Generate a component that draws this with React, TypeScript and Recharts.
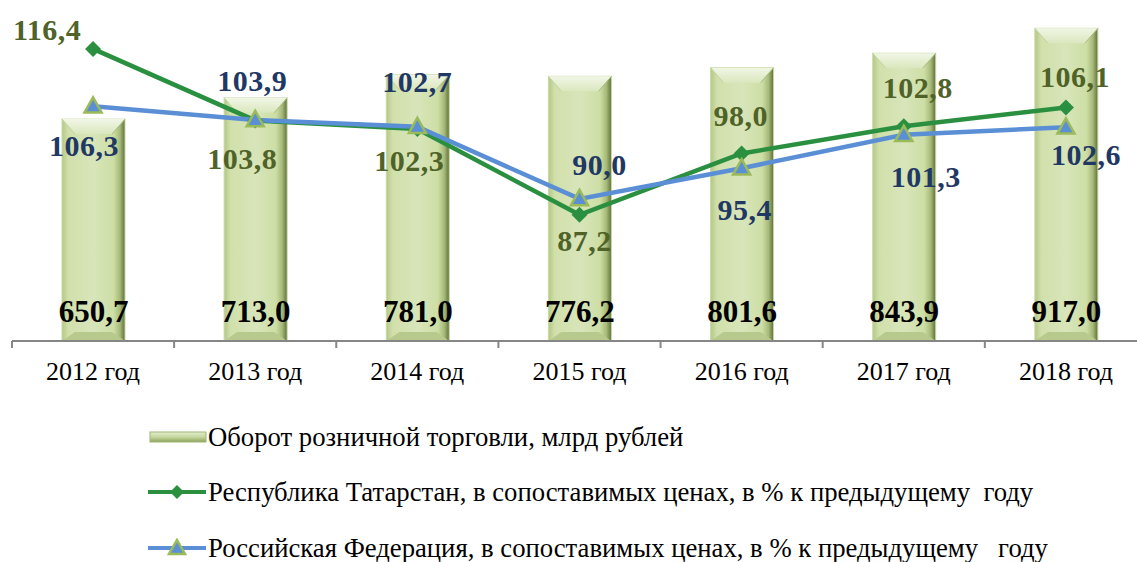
import { ComposedChart, Bar, Line, XAxis, YAxis, Legend, LabelList } from 'recharts'

// данные
const years = ['2012 год', '2013 год', '2014 год', '2015 год', '2016 год', '2017 год', '2018 год']
const turnover = [650.7, 713.0, 781.0, 776.2, 801.6, 843.9, 917.0]
const tatarstan = [116.4, 103.8, 102.3, 87.2, 98.0, 102.8, 106.1]
const russia = [106.3, 103.9, 102.7, 90.0, 95.4, 101.3, 102.6]

const seriesNames = [
  'Оборот розничной торговли, млрд рублей',
  'Республика Татарстан, в сопоставимых ценах, в % к предыдущему  году',
  'Российская Федерация, в сопоставимых ценах, в % к предыдущему   году',
]

const data = years.map((year, i) => ({
  year,
  turnover: turnover[i],
  tatarstan: tatarstan[i],
  russia: russia[i],
}))

// смещения подписей относительно точек
const greenOffsets = [[-46, -19], [-13, 38], [-8, 31], [5, 26], [-1, -38], [14, -39], [9, -31]]
const blueOffsets = [[-9, 39], [-3, -39], [0, -45], [20, -34], [3, 41], [22, 42], [20, 27]]

const FONT = "'Liberation Serif', 'Times New Roman', serif"
const GREEN = '#2a9040'
const BLUE = '#5a8fd6'
const BAND = 162.2

const fmt = (v: number) => v.toFixed(1).replace('.', ',')

const BevelBar = (props: any) => {
  const { x, y, width, height } = props
  if (!height || height <= 0) return null
  const bx = 13
  const by = 15
  const bb = 9
  return (
    <g>
      <rect x={x} y={y} width={width} height={height} fill="url(#barBody)" stroke="#c9d9a6" strokeWidth={1} />
      <polygon
        points={`${x},${y} ${x + width},${y} ${x + width - bx},${y + by} ${x + bx},${y + by}`}
        fill="url(#barTop)"
      />
      <polygon
        points={`${x},${y + height} ${x + width},${y + height} ${x + width - bx},${y + height - bb} ${x + bx},${y + height - bb}`}
        fill="#b7c98c"
      />
      <line x1={x} y1={y} x2={x + bx} y2={y + by} stroke="#c2d39a" strokeWidth={1} />
      <line x1={x + width} y1={y} x2={x + width - bx} y2={y + by} stroke="#a9bb7c" strokeWidth={1} />
    </g>
  )
}

const Diamond = (props: any) => {
  const { cx, cy } = props
  if (cx == null || cy == null) return null
  const r = 8
  return <polygon points={`${cx},${cy - r} ${cx + r},${cy} ${cx},${cy + r} ${cx - r},${cy}`} fill={GREEN} />
}

const Triangle = (props: any) => {
  const { cx, cy } = props
  if (cx == null || cy == null) return null
  const r = 9
  return (
    <polygon
      points={`${cx},${cy - r} ${cx + r * 0.95},${cy + r * 0.7} ${cx - r * 0.95},${cy + r * 0.7}`}
      fill={BLUE}
      stroke="#9bbb59"
      strokeWidth={2.5}
    />
  )
}

const makeLineLabel = (color: string, offsets: number[][]) => (props: any) => {
  const { x, y, value, index } = props
  const [dx, dy] = offsets[index] || [0, 0]
  return (
    <text
      x={x + dx}
      y={y + dy}
      textAnchor="middle"
      dominantBaseline="central"
      fill={color}
      fontSize={30}
      letterSpacing={0.5}
      fontWeight="bold"
      fontFamily={FONT}
    >
      {fmt(value)}
    </text>
  )
}

const BarLabel = (props: any) => {
  const { x, y, width, height, value } = props
  return (
    <text
      x={x + width / 2}
      y={y + height - 30}
      textAnchor="middle"
      dominantBaseline="central"
      fill="#000"
      fontSize={31}
      fontWeight="bold"
      fontFamily={FONT}
    >
      {fmt(value)}
    </text>
  )
}

const YearTick = (props: any) => {
  const { x, y, payload, index } = props
  const half = BAND / 2
  return (
    <g>
      <line x1={x - half} y1={y - 8} x2={x - half} y2={y - 1} stroke="#868686" strokeWidth={2} />
      {index === years.length - 1 && (
        <line x1={x + half} y1={y - 8} x2={x + half} y2={y - 1} stroke="#868686" strokeWidth={2} />
      )}
      <text x={x} y={y + 31} textAnchor="middle" fill="#000" fontSize={26} fontFamily={FONT}>
        {payload.value}
      </text>
    </g>
  )
}

const LegendBox = () => {
  const rowTop = [22, 77, 133]
  return (
    <div style={{ position: 'relative', width: 1137, height: 161, fontFamily: FONT }}>
      {seriesNames.map((name, i) => (
        <div
          key={name}
          style={{
            position: 'absolute',
            left: 148,
            top: rowTop[i],
            height: 28,
            display: 'flex',
            alignItems: 'center',
            whiteSpace: 'pre',
            fontSize: 26.7,
            fontFamily: FONT,
            color: '#000',
          }}
        >
          <svg width={59} height={20} style={{ marginRight: 1, flexShrink: 0 }}>
            {i === 0 && (
              <g>
                <rect x={2} y={5} width={56} height={10} fill="url(#legendBar)" stroke="#9fb574" strokeWidth={1} />
              </g>
            )}
            {i === 1 && (
              <g>
                <line x1={0} y1={10} x2={58} y2={10} stroke={GREEN} strokeWidth={4} />
                <polygon points="29,3 36,10 29,17 22,10" fill={GREEN} />
              </g>
            )}
            {i === 2 && (
              <g>
                <line x1={0} y1={10} x2={58} y2={10} stroke={BLUE} strokeWidth={4} />
                <polygon points="29,2 37,16 21,16" fill={BLUE} stroke="#9bbb59" strokeWidth={2.5} />
              </g>
            )}
            <defs>
              <linearGradient id="legendBar" x1="0" y1="0" x2="0" y2="1">
                <stop offset="0%" stopColor="#e4edcf" />
                <stop offset="50%" stopColor="#c6d79e" />
                <stop offset="100%" stopColor="#8ea35c" />
              </linearGradient>
            </defs>
          </svg>
          <span style={{ fontFamily: FONT }}>{name}</span>
        </div>
      ))}
    </div>
  )
}

export default function App() {
  return (
    <div style={{ position: 'absolute', left: 0, top: 0, width: 1137, height: 562, overflow: 'hidden', background: '#fff' }}>
      <ComposedChart width={1151} height={562} data={data} margin={{ top: 0, right: 4, bottom: 0, left: 12 }}>
        <defs>
          <linearGradient id="barBody" x1="0" y1="0" x2="1" y2="0">
            <stop offset="0%" stopColor="#b3c785" />
            <stop offset="10%" stopColor="#d1e0ab" />
            <stop offset="50%" stopColor="#d8e5ba" />
            <stop offset="82%" stopColor="#cddea5" />
            <stop offset="92%" stopColor="#a7ba78" />
            <stop offset="100%" stopColor="#5f6e3c" />
          </linearGradient>
          <linearGradient id="barTop" x1="0" y1="0" x2="0" y2="1">
            <stop offset="0%" stopColor="#f1f6e6" />
            <stop offset="100%" stopColor="#dae7bd" />
          </linearGradient>
        </defs>
        <XAxis
          dataKey="year"
          height={60}
          axisLine={{ stroke: '#868686', strokeWidth: 2 }}
          tickLine={false}
          tick={<YearTick />}
          interval={0}
        />
        <YAxis yAxisId="bar" hide domain={[0, 1000]} />
        <YAxis yAxisId="pct" hide orientation="right" domain={[65, 125]} />
        <Legend verticalAlign="bottom" content={<LegendBox />} wrapperStyle={{ left: 0, bottom: 0, width: 1137, height: 161 }} />
        <Bar yAxisId="bar" dataKey="turnover" name={seriesNames[0]} barSize={63} shape={<BevelBar />} isAnimationActive={false}>
          <LabelList dataKey="turnover" content={<BarLabel />} />
        </Bar>
        <Line
          yAxisId="pct"
          dataKey="tatarstan"
          name={seriesNames[1]}
          stroke={GREEN}
          strokeWidth={4.5}
          dot={<Diamond />}
          activeDot={false}
          isAnimationActive={false}
        >
          <LabelList dataKey="tatarstan" content={makeLineLabel('#4f6228', greenOffsets)} />
        </Line>
        <Line
          yAxisId="pct"
          dataKey="russia"
          name={seriesNames[2]}
          stroke={BLUE}
          strokeWidth={4.5}
          dot={<Triangle />}
          activeDot={false}
          isAnimationActive={false}
        >
          <LabelList dataKey="russia" content={makeLineLabel('#1f3864', blueOffsets)} />
        </Line>
      </ComposedChart>
    </div>
  )
}
